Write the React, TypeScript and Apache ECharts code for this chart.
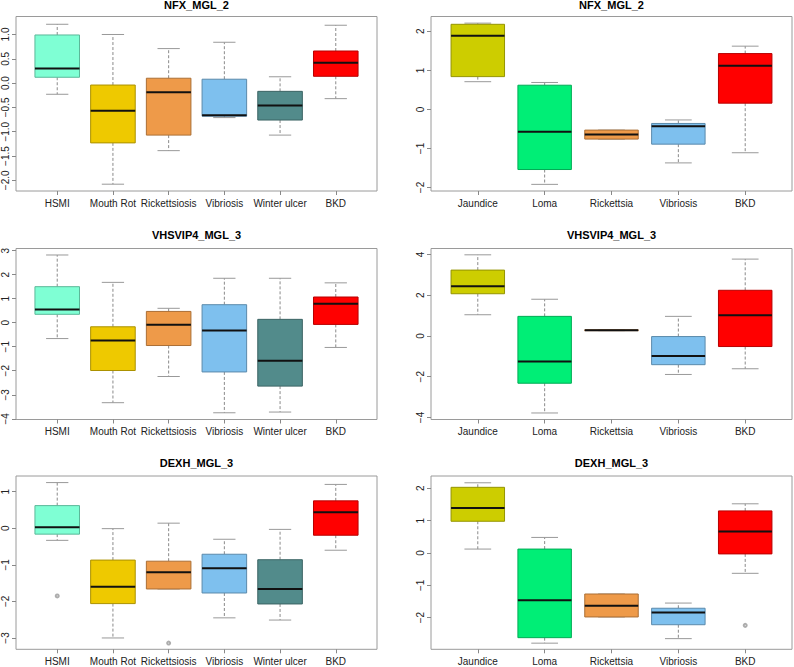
import React, { useEffect, useRef } from "react";
import * as echarts from "echarts";

// ---------- data ----------
const leftDiseases = ["HSMI", "Mouth Rot", "Rickettsiosis", "Vibriosis", "Winter ulcer", "BKD"];
const rightDiseases = ["Jaundice", "Loma", "Rickettsia", "Vibriosis", "BKD"];

const leftColors = ["#7FFFD4", "#EEC900", "#EE9A49", "#7EC0EE", "#528B8B", "#FF0000"];
const rightColors = ["#CDCD00", "#00EE76", "#EE9A49", "#7EC0EE", "#FF0000"];

// each row: [min, Q1, median, Q3, max]
const nfxLeft = [
  [-0.23, 0.12, 0.30, 0.99, 1.21],
  [-2.08, -1.23, -0.57, -0.04, 1.00],
  [-1.39, -1.07, -0.19, 0.10, 0.71],
  [-0.71, -0.68, -0.66, 0.08, 0.84],
  [-1.07, -0.76, -0.46, -0.17, 0.13],
  [-0.32, 0.14, 0.42, 0.66, 1.19],
];
const nfxRight = [
  [0.71, 0.84, 1.89, 2.18, 2.21],
  [-1.92, -1.54, -0.57, 0.62, 0.69],
  [-0.76, -0.76, -0.64, -0.53, -0.53],
  [-1.37, -0.89, -0.43, -0.36, -0.27],
  [-1.11, 0.16, 1.12, 1.43, 1.62],
];
const vhsLeft = [
  [-0.66, 0.35, 0.55, 1.50, 2.82],
  [-3.33, -1.99, -0.74, -0.17, 1.68],
  [-2.24, -0.95, -0.09, 0.47, 0.60],
  [-3.75, -2.05, -0.32, 0.75, 1.85],
  [-3.72, -2.64, -1.58, 0.14, 1.85],
  [-1.03, -0.07, 0.79, 1.07, 1.66],
];
const vhsRight = [
  [1.04, 2.07, 2.44, 3.23, 3.98],
  [-3.78, -2.32, -1.25, 0.96, 1.80],
  [0.26, 0.26, 0.28, 0.30, 0.30],
  [-1.89, -1.41, -0.99, -0.03, 0.96],
  [-1.61, -0.52, 1.02, 2.24, 3.77],
];
const dexhLeft = [
  [-0.33, -0.16, 0.03, 0.62, 1.25],
  [-3.00, -2.06, -1.60, -0.87, -0.01],
  [-1.66, -1.66, -1.20, -0.90, 0.14],
  [-2.45, -1.77, -1.09, -0.71, -0.30],
  [-2.51, -2.07, -1.66, -0.86, -0.03],
  [-0.60, -0.19, 0.44, 0.75, 1.20],
];
const dexhRight = [
  [0.12, 0.98, 1.39, 2.03, 2.17],
  [-2.79, -2.62, -1.46, 0.12, 0.48],
  [-1.98, -1.98, -1.63, -1.27, -1.27],
  [-2.65, -2.22, -1.84, -1.71, -1.55],
  [-0.63, -0.03, 0.66, 1.30, 1.52],
];

// outliers: [category position (1-based), value]
const dexhLeftOutliers = [[1, -1.85], [3, -3.14]];
const dexhRightOutliers = [[5, -2.24]];

// y tick labels
const nfxLeftTicks = [-2.0, -1.5, -1.0, -0.5, 0.0, 0.5, 1.0];
const nfxRightTicks = [-2, -1, 0, 1, 2];
const vhsLeftTicks = [-4, -3, -2, -1, 0, 1, 2, 3];
const vhsRightTicks = [-4, -2, 0, 2, 4];
const dexhLeftTicks = [-3, -2, -1, 0, 1];
const dexhRightTicks = [-2, -1, 0, 1, 2];

const titles = ["NFX_MGL_2", "VHSVIP4_MGL_3", "DEXH_MGL_3"];

// ---------- layout ----------
const FONT = "Liberation Sans, Arial, Helvetica, sans-serif";
const cols = [
  { left: 16, width: 361 },
  { left: 431, width: 361 },
];
const rows = [
  { top: 16.5, height: 174.5 },
  { top: 248.5, height: 171 },
  { top: 476, height: 173.3 },
];
const titleTops = [-1, 229, 457];

const panels = [
  { title: titles[0], cats: leftDiseases, colors: leftColors, stats: nfxLeft, out: [], ticks: nfxLeftTicks, yMin: -2.22, yMax: 1.37, dec: 1, r: 0, c: 0 },
  { title: titles[0], cats: rightDiseases, colors: rightColors, stats: nfxRight, out: [], ticks: nfxRightTicks, yMin: -2.09, yMax: 2.38, dec: 0, r: 0, c: 1 },
  { title: titles[1], cats: leftDiseases, colors: leftColors, stats: vhsLeft, out: [], ticks: vhsLeftTicks, yMin: -4.03, yMax: 3.09, dec: 0, r: 1, c: 0 },
  { title: titles[1], cats: rightDiseases, colors: rightColors, stats: vhsRight, out: [], ticks: vhsRightTicks, yMin: -4.10, yMax: 4.29, dec: 0, r: 1, c: 1 },
  { title: titles[2], cats: leftDiseases, colors: leftColors, stats: dexhLeft, out: dexhLeftOutliers, ticks: dexhLeftTicks, yMin: -3.31, yMax: 1.43, dec: 0, r: 2, c: 0 },
  { title: titles[2], cats: rightDiseases, colors: rightColors, stats: dexhRight, out: dexhRightOutliers, ticks: dexhRightTicks, yMin: -2.98, yMax: 2.38, dec: 0, r: 2, c: 1 },
];

function darken(hex: string, f: number) {
  const n = parseInt(hex.slice(1), 16);
  const r = Math.round(((n >> 16) & 255) * f);
  const g = Math.round(((n >> 8) & 255) * f);
  const b = Math.round((n & 255) * f);
  return `rgb(${r},${g},${b})`;
}

function fmt(v: number, dec: number) {
  const s = Math.abs(v).toFixed(dec);
  return v < -1e-9 ? "\u2212" + s : s;
}

function buildOption() {
  const grid: any[] = [];
  const xAxis: any[] = [];
  const yAxis: any[] = [];
  const series: any[] = [];
  const title: any[] = [];

  panels.forEach((p, i) => {
    const col = cols[p.c];
    const row = rows[p.r];
    const n = p.cats.length;
    grid.push({
      left: col.left,
      top: row.top,
      width: col.width,
      height: row.height,
      show: true,
      borderColor: "#9a9a9a",
      borderWidth: 1,
      backgroundColor: "transparent",
      containLabel: false,
    });
    title.push({
      text: p.title,
      left: col.left + col.width / 2,
      top: titleTops[p.r],
      textAlign: "center",
      padding: 0,
      textStyle: { fontSize: 11, fontWeight: "bold", color: "#000", fontFamily: FONT },
    });
    const positions = p.cats.map((_, k) => k + 1);
    xAxis.push({
      type: "value",
      gridIndex: i,
      position: "bottom",
      min: 0.5 - 0.04 * n,
      max: n + 0.5 + 0.04 * n,
      axisLine: { show: false, onZero: false },
      splitLine: { show: false },
      axisTick: { show: true, length: 4, customValues: positions, lineStyle: { color: "#888" } },
      axisLabel: {
        customValues: positions,
        margin: 7,
        fontSize: 10,
        color: "#222",
        fontFamily: FONT,
        formatter: (v: number) => p.cats[Math.round(v) - 1] ?? "",
      },
    });
    yAxis.push({
      type: "value",
      gridIndex: i,
      position: "left",
      min: p.yMin,
      max: p.yMax,
      axisLine: { show: false, onZero: false },
      splitLine: { show: false },
      axisTick: { show: true, length: 4, customValues: p.ticks, lineStyle: { color: "#888" } },
      axisLabel: {
        customValues: p.ticks,
        rotate: 90,
        margin: 6,
        fontSize: 10,
        color: "#222",
        fontFamily: FONT,
        formatter: (v: number) => fmt(v, p.dec),
      },
    });
    const colors = p.colors;
    series.push({
      type: "custom",
      xAxisIndex: i,
      yAxisIndex: i,
      encode: { x: 0, y: [1, 2, 3, 4, 5] },
      data: p.stats.map((s, k) => [k + 1, ...s]),
      renderItem: (params: any, api: any) => {
        const x = api.value(0);
        const idx = Math.round(x) - 1;
        const unit = api.size([1, 0])[0];
        const half = unit * 0.4;
        const capHalf = half * 0.5;
        const pMin = api.coord([x, api.value(1)]);
        const pQ1 = api.coord([x, api.value(2)]);
        const pMed = api.coord([x, api.value(3)]);
        const pQ3 = api.coord([x, api.value(4)]);
        const pMax = api.coord([x, api.value(5)]);
        const cx = pMed[0];
        const fill = colors[idx];
        const whisk = { stroke: "#8a8a8a", lineWidth: 1, lineDash: [3, 2] };
        const cap = { stroke: "#999", lineWidth: 1 };
        return {
          type: "group",
          children: [
            { type: "line", shape: { x1: cx, y1: pQ3[1], x2: cx, y2: pMax[1] }, style: whisk },
            { type: "line", shape: { x1: cx, y1: pQ1[1], x2: cx, y2: pMin[1] }, style: whisk },
            { type: "line", shape: { x1: cx - capHalf, y1: pMax[1], x2: cx + capHalf, y2: pMax[1] }, style: cap },
            { type: "line", shape: { x1: cx - capHalf, y1: pMin[1], x2: cx + capHalf, y2: pMin[1] }, style: cap },
            {
              type: "rect",
              shape: { x: cx - half, y: pQ3[1], width: half * 2, height: Math.max(pQ1[1] - pQ3[1], 0.5) },
              style: { fill, stroke: darken(fill, 0.72), lineWidth: 1 },
            },
            {
              type: "line",
              shape: { x1: cx - half, y1: pMed[1], x2: cx + half, y2: pMed[1] },
              style: { stroke: "#111", lineWidth: 2 },
            },
          ],
        };
      },
    });
    series.push({
      type: "scatter",
      xAxisIndex: i,
      yAxisIndex: i,
      symbol: "emptyCircle",
      symbolSize: 3,
      itemStyle: { color: "#999", borderWidth: 0.8 },
      data: p.out,
    });
  });

  return {
    animation: false,
    backgroundColor: "#fff",
    title,
    grid,
    xAxis,
    yAxis,
    series,
  };
}

export default function App() {
  const ref = useRef<HTMLDivElement>(null);
  useEffect(() => {
    document.body.style.margin = "0";
    if (!ref.current) return;
    const chart = echarts.init(ref.current, undefined, { renderer: "svg" });
    chart.setOption(buildOption() as any);
    return () => chart.dispose();
  }, []);
  return (
    <div
      ref={ref}
      style={{ position: "fixed", left: 0, top: 0, width: 794, height: 667, background: "#fff" }}
    />
  );
}
